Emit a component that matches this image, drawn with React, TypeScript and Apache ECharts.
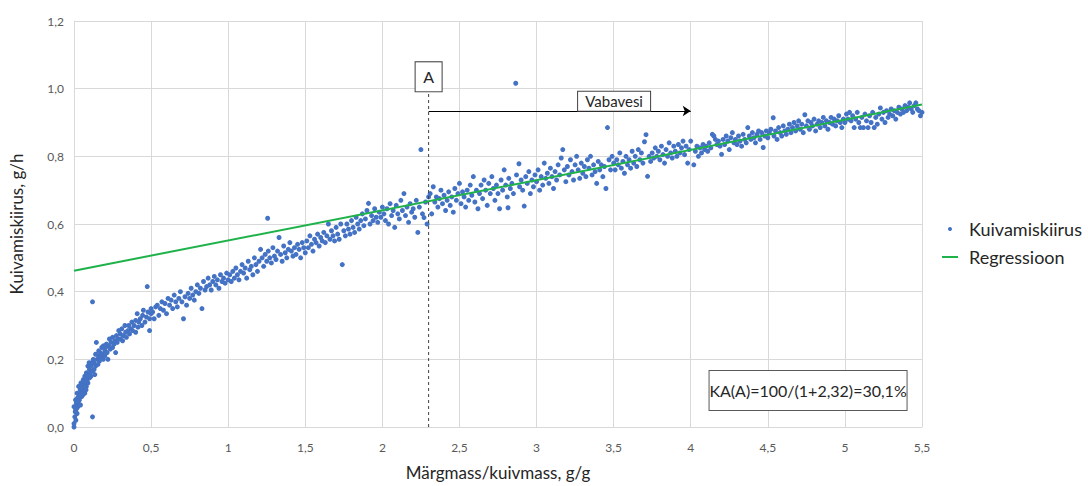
import React, { useEffect, useRef } from 'react';
import * as echarts from 'echarts';

// Measured drying rate points: [wet mass / dry mass (g/g), drying rate (g/h)]
const dryingPoints: [number, number][] = [
  [0,0.0],[0,0.01],[0.005,0.03],[0.01,0.05],[0.0,0.06],[0.01,0.08],[0.02,0.04],[0.015,0.07],[0.02,0.1],[0.025,0.06],
  [0.03,0.09],[0.03,0.12],[0.035,0.08],[0.04,0.11],[0.04,0.1],[0.045,0.13],[0.05,0.09],[0.05,0.12],[0.055,0.105],[0.06,0.14],
  [0.06,0.11],[0.065,0.125],[0.07,0.1],[0.07,0.15],[0.075,0.13],[0.08,0.12],[0.08,0.16],[0.085,0.14],[0.09,0.18],[0.09,0.13],
  [0.095,0.155],[0.1,0.17],[0.1,0.145],[0.012,0.02],[0.008,0.045],[0.018,0.055],[0.022,0.085],[0.028,0.075],[0.038,0.095],[0.042,0.065],
  [0.048,0.115],[0.058,0.095],[0.068,0.135],[0.078,0.11],[0.088,0.15],[0.098,0.19],[0.12,0.37],[0.12,0.03],
  [0.105,0.16],[0.11,0.18],[0.11,0.15],[0.115,0.19],[0.12,0.165],[0.125,0.2],[0.13,0.17],[0.13,0.19],[0.135,0.155],[0.14,0.215],
  [0.14,0.18],[0.145,0.25],[0.15,0.2],[0.155,0.185],[0.16,0.21],[0.16,0.225],[0.165,0.195],[0.17,0.22],[0.175,0.205],[0.18,0.235],
  [0.185,0.215],[0.19,0.2],[0.19,0.24],[0.2,0.225],[0.2,0.21],[0.205,0.235],[0.21,0.245],[0.215,0.22],[0.22,0.2],[0.225,0.24],
  [0.23,0.26],[0.235,0.23],[0.24,0.25],[0.25,0.235],[0.25,0.265],[0.26,0.245],[0.265,0.255],[0.27,0.22],[0.275,0.27],[0.28,0.25],
  [0.285,0.26],[0.29,0.285],[0.3,0.26],[0.3,0.275],[0.31,0.29],[0.315,0.255],[0.32,0.27],[0.33,0.3],[0.335,0.28],[0.34,0.265],
  [0.35,0.285],[0.355,0.3],[0.36,0.275],[0.37,0.29],[0.375,0.31],[0.38,0.285],[0.39,0.3],[0.4,0.28],[0.4,0.315],[0.41,0.335],
  [0.415,0.295],[0.42,0.31],[0.43,0.32],[0.44,0.3],[0.445,0.33],[0.45,0.345],[0.46,0.31],[0.47,0.325],[0.475,0.415],[0.48,0.34],
  [0.49,0.285],[0.49,0.32],[0.5,0.35],[0.5,0.335],
  [0.51,0.34],[0.52,0.32],[0.53,0.355],[0.54,0.36],[0.55,0.33],[0.56,0.35],[0.57,0.37],[0.58,0.345],[0.59,0.365],[0.6,0.335],
  [0.61,0.38],[0.62,0.36],[0.63,0.375],[0.64,0.35],[0.65,0.39],[0.66,0.37],[0.67,0.355],[0.68,0.38],[0.69,0.4],[0.7,0.37],
  [0.71,0.32],[0.72,0.385],[0.73,0.36],[0.74,0.395],[0.75,0.38],[0.76,0.41],[0.77,0.39],[0.78,0.375],[0.79,0.4],[0.8,0.42],
  [0.81,0.395],[0.82,0.41],[0.83,0.35],[0.84,0.43],[0.85,0.405],[0.86,0.415],[0.87,0.44],[0.88,0.42],[0.89,0.405],[0.9,0.43],
  [0.91,0.445],[0.92,0.42],[0.93,0.435],[0.94,0.41],[0.95,0.45],[0.96,0.43],[0.97,0.44],[0.98,0.425],[0.99,0.455],[1.0,0.435],
  [1.01,0.45],[1.02,0.43],[1.03,0.46],[1.04,0.44],[1.05,0.47],[1.06,0.45],[1.07,0.435],[1.08,0.46],[1.09,0.48],[1.1,0.455],
  [1.11,0.47],[1.12,0.44],[1.13,0.49],[1.14,0.465],[1.15,0.475],[1.16,0.45],[1.17,0.5],[1.18,0.48],[1.19,0.46],[1.2,0.49],
  [1.21,0.525],[1.22,0.5],[1.23,0.475],[1.24,0.51],[1.25,0.49],[1.256,0.617],[1.26,0.52],[1.27,0.5],[1.28,0.485],[1.29,0.53],
  [1.3,0.505],[1.31,0.495],[1.32,0.52],[1.33,0.56],[1.34,0.51],[1.35,0.49],[1.36,0.535],[1.37,0.515],[1.38,0.5],[1.39,0.525],
  [1.4,0.545],[1.41,0.52],[1.42,0.505],[1.43,0.53],[1.44,0.51],[1.45,0.54],[1.46,0.525],[1.47,0.5],[1.48,0.545],[1.49,0.53],[1.5,0.515],
  [1.51,0.55],[1.52,0.53],[1.53,0.565],[1.54,0.54],[1.55,0.52],[1.56,0.555],[1.57,0.545],[1.58,0.57],[1.59,0.535],[1.6,0.56],
  [1.61,0.55],[1.62,0.575],[1.63,0.545],[1.64,0.565],[1.65,0.6],[1.66,0.555],[1.67,0.58],[1.68,0.565],[1.69,0.55],[1.7,0.59],
  [1.71,0.57],[1.72,0.555],[1.73,0.6],[1.74,0.48],[1.75,0.58],[1.76,0.565],[1.77,0.6],[1.78,0.585],[1.79,0.57],[1.8,0.61],
  [1.81,0.59],[1.82,0.575],[1.83,0.62],[1.84,0.6],[1.85,0.585],[1.86,0.61],[1.87,0.63],[1.88,0.595],[1.89,0.615],[1.9,0.64],
  [1.91,0.661],[1.92,0.6],[1.93,0.625],[1.94,0.61],[1.95,0.645],[1.96,0.62],[1.97,0.605],[1.98,0.635],[1.99,0.62],[2.0,0.65],
  [2.01,0.63],[2.02,0.61],[2.03,0.645],[2.04,0.6],[2.05,0.66],[2.06,0.625],[2.07,0.64],[2.08,0.59],[2.09,0.655],[2.1,0.63],
  [2.11,0.615],[2.12,0.67],[2.13,0.64],[2.14,0.69],[2.15,0.625],[2.16,0.65],[2.17,0.605],[2.18,0.66],[2.19,0.635],[2.2,0.645],
  [2.21,0.62],[2.22,0.67],[2.23,0.575],[2.24,0.65],[2.25,0.82],[2.26,0.63],[2.27,0.619],[2.28,0.665],[2.29,0.6],[2.3,0.68],
  [2.31,0.69],[2.32,0.63],[2.33,0.71],[2.34,0.665],[2.35,0.68],[2.36,0.65],[2.37,0.675],[2.38,0.7],[2.39,0.66],[2.4,0.685],
  [2.41,0.64],[2.42,0.67],[2.43,0.695],[2.44,0.655],[2.45,0.68],[2.46,0.635],[2.47,0.705],[2.48,0.67],[2.49,0.69],[2.5,0.72],
  [2.51,0.66],[2.52,0.695],[2.53,0.68],[2.54,0.65],[2.55,0.7],[2.56,0.67],[2.57,0.715],[2.58,0.685],[2.59,0.74],[2.6,0.665],
  [2.61,0.7],[2.62,0.645],[2.63,0.69],[2.64,0.715],[2.65,0.675],[2.66,0.73],[2.67,0.7],[2.68,0.655],[2.69,0.72],[2.7,0.69],
  [2.71,0.74],[2.72,0.705],[2.73,0.67],[2.74,0.715],[2.75,0.69],[2.76,0.645],[2.77,0.73],[2.78,0.7],[2.79,0.76],[2.8,0.715],
  [2.81,0.68],[2.815,0.648],[2.82,0.735],[2.83,0.705],[2.84,0.72],[2.85,0.69],[2.865,1.016],[2.87,0.745],[2.886,0.778],[2.89,0.71],
  [2.9,0.73],[2.91,0.7],[2.92,0.653],[2.93,0.74],[2.94,0.72],[2.95,0.755],[2.96,0.69],[2.97,0.73],[2.98,0.71],[2.99,0.745],[3.0,0.725],
  [3.01,0.76],[3.02,0.7],[3.03,0.74],[3.04,0.715],[3.05,0.78],[3.06,0.735],[3.07,0.75],[3.08,0.72],[3.09,0.765],[3.1,0.74],
  [3.11,0.705],[3.12,0.755],[3.13,0.73],[3.14,0.775],[3.15,0.745],[3.16,0.795],[3.17,0.82],[3.18,0.76],[3.19,0.725],[3.2,0.77],
  [3.21,0.745],[3.22,0.79],[3.23,0.755],[3.24,0.73],[3.25,0.775],[3.26,0.8],[3.27,0.76],[3.28,0.735],[3.29,0.78],[3.3,0.75],
  [3.31,0.77],[3.32,0.74],[3.33,0.79],[3.34,0.765],[3.35,0.8],[3.36,0.745],[3.37,0.775],[3.38,0.755],[3.39,0.72],[3.4,0.785],
  [3.41,0.76],[3.42,0.775],[3.43,0.74],[3.44,0.77],[3.45,0.705],[3.46,0.885],[3.47,0.79],[3.48,0.76],[3.49,0.8],[3.5,0.78],
  [3.51,0.76],[3.52,0.79],[3.53,0.775],[3.54,0.81],[3.55,0.765],[3.56,0.785],[3.57,0.75],[3.58,0.8],[3.59,0.775],[3.6,0.79],
  [3.61,0.765],[3.62,0.815],[3.63,0.78],[3.64,0.8],[3.65,0.77],[3.66,0.82],[3.67,0.79],[3.68,0.81],[3.69,0.78],[3.7,0.843],
  [3.71,0.864],[3.72,0.741],[3.73,0.8],[3.74,0.785],[3.75,0.81],[3.76,0.795],[3.77,0.825],[3.78,0.8],[3.79,0.815],[3.8,0.79],
  [3.81,0.83],[3.82,0.805],[3.83,0.78],[3.84,0.82],[3.85,0.8],[3.86,0.84],[3.87,0.81],[3.88,0.795],[3.89,0.83],[3.9,0.815],
  [3.91,0.8],[3.92,0.835],[3.93,0.81],[3.94,0.825],[3.95,0.845],[3.96,0.805],[3.97,0.83],[3.98,0.78],[3.99,0.82],[4.0,0.845],
  [4.02,0.775],[4.03,0.815],[4.04,0.83],[4.05,0.8],[4.06,0.825],[4.07,0.81],[4.08,0.835],[4.09,0.82],[4.1,0.83],[4.11,0.815],
  [4.12,0.84],[4.13,0.825],[4.14,0.865],[4.15,0.86],[4.16,0.85],[4.17,0.835],[4.18,0.845],[4.19,0.83],[4.2,0.806],[4.21,0.85],
  [4.22,0.835],[4.23,0.86],[4.24,0.845],[4.25,0.82],[4.26,0.855],[4.27,0.87],[4.28,0.84],[4.29,0.85],[4.3,0.835],[4.31,0.86],
  [4.32,0.845],[4.33,0.83],[4.34,0.865],[4.35,0.85],[4.36,0.84],[4.37,0.885],[4.38,0.86],[4.39,0.85],[4.4,0.87],[4.41,0.855],
  [4.42,0.84],[4.43,0.865],[4.44,0.875],[4.45,0.85],[4.46,0.87],[4.47,0.826],[4.48,0.86],[4.49,0.875],[4.5,0.855],
  [4.51,0.87],[4.52,0.88],[4.535,0.914],[4.54,0.86],[4.55,0.875],[4.56,0.85],[4.57,0.885],[4.58,0.87],[4.59,0.86],[4.6,0.89],
  [4.61,0.875],[4.62,0.865],[4.63,0.88],[4.64,0.895],[4.65,0.87],[4.66,0.885],[4.67,0.9],[4.68,0.875],[4.69,0.89],[4.7,0.905],
  [4.71,0.88],[4.72,0.895],[4.73,0.87],[4.74,0.923],[4.75,0.89],[4.76,0.905],[4.77,0.88],[4.78,0.9],[4.79,0.89],[4.8,0.91],
  [4.81,0.875],[4.82,0.895],[4.83,0.905],[4.84,0.885],[4.85,0.9],[4.86,0.915],[4.87,0.89],[4.88,0.905],[4.89,0.88],[4.9,0.9],
  [4.91,0.915],[4.92,0.895],[4.93,0.91],[4.94,0.89],[4.95,0.905],[4.96,0.92],[4.97,0.9],[4.98,0.885],[4.99,0.91],[5.0,0.9],
  [5.01,0.925],[5.02,0.91],[5.03,0.93],[5.04,0.905],[5.05,0.92],[5.06,0.885],[5.07,0.91],[5.08,0.93],[5.09,0.9],[5.1,0.885],
  [5.11,0.915],[5.12,0.885],[5.13,0.925],[5.14,0.905],[5.15,0.885],[5.16,0.92],[5.17,0.9],[5.18,0.93],[5.19,0.885],[5.2,0.915],
  [5.21,0.895],[5.22,0.925],[5.23,0.943],[5.24,0.91],[5.25,0.93],[5.26,0.9],[5.27,0.935],[5.28,0.915],[5.29,0.925],[5.3,0.94],
  [5.31,0.92],[5.32,0.935],[5.33,0.91],[5.34,0.93],[5.35,0.945],[5.36,0.925],[5.37,0.94],[5.38,0.93],[5.39,0.95],[5.4,0.935],
  [5.41,0.945],[5.42,0.958],[5.43,0.94],[5.44,0.93],[5.45,0.95],[5.46,0.958],[5.47,0.94],[5.48,0.935],[5.49,0.92],[5.5,0.93]
];

// Linear regression line end points
const regressionLine: [number, number][] = [[0, 0.462], [5.5, 0.953]];

// Annotations
const pointA = 2.3;
const pointATop = 0.99;
const labelAY = 1.035;
const freeWaterArrowY = 0.934;
const freeWaterArrowEnd = 4.0;
const freeWaterLabel: [number, number] = [3.503, 0.963];
const kaLabel: [number, number] = [4.761, 0.108];
const kaText = 'KA(A)=100/(1+2,32)=30,1%';

const xRange = { min: 0, max: 5.5, interval: 0.5 };
const yRange = { min: 0, max: 1.2, interval: 0.2 };

const FONT = 'Lato, "Open Sans", sans-serif';

function boxLabel(text: string, w: number, h: number, size: number, border: string) {
  return {
    show: true,
    position: 'inside',
    formatter: text,
    color: '#262626',
    fontSize: size,
    fontFamily: FONT,
    backgroundColor: '#ffffff',
    borderColor: border,
    borderWidth: 1,
    width: w,
    height: h,
    lineHeight: h,
    align: 'center',
    verticalAlign: 'middle',
    padding: 0,
  };
}

export default function App() {
  const ref = useRef<HTMLDivElement>(null);

  useEffect(() => {
    if (!ref.current) return;
    document.body.style.margin = '0';
    document.body.style.overflow = 'hidden';
    const chart = echarts.init(ref.current, undefined, { renderer: 'svg' });
    const gridColor = '#d9d9d9';

    chart.setOption({
      animation: false,
      textStyle: { fontFamily: FONT },
      grid: { left: 67, right: 166, top: 21, bottom: 54, containLabel: false },
      legend: {
        orient: 'vertical',
        left: 937,
        top: 214,
        itemWidth: 16,
        itemHeight: 4,
        itemGap: 8,
        textStyle: { fontFamily: FONT, fontSize: 18, lineHeight: 20, color: '#262626', padding: [0, 0, 0, 6] },
        data: [
          { name: 'Kuivamiskiirus', icon: 'circle' },
          { name: 'Regressioon', icon: 'path://M0,0H16V2H0Z' },
        ],
        selectedMode: false,
      },
      xAxis: {
        type: 'value',
        min: xRange.min,
        max: xRange.max,
        interval: xRange.interval,
        name: 'Märgmass/kuivmass, g/g',
        nameLocation: 'middle',
        nameGap: 37,
        nameTextStyle: { fontFamily: FONT, fontSize: 17, color: '#262626' },
        axisLine: { show: true, lineStyle: { color: gridColor } },
        axisTick: { show: false },
        splitLine: { show: true, lineStyle: { color: gridColor } },
        axisLabel: {
          color: '#595959',
          fontSize: 12,
          margin: 14,
          formatter: (v: number) => String(v).replace('.', ','),
        },
      },
      yAxis: {
        type: 'value',
        min: yRange.min,
        max: yRange.max,
        interval: yRange.interval,
        name: 'Kuivamiskiirus, g/h',
        nameLocation: 'middle',
        nameGap: 49,
        nameTextStyle: { fontFamily: FONT, fontSize: 17, color: '#262626' },
        axisLine: { show: true, lineStyle: { color: gridColor } },
        axisTick: { show: false },
        splitLine: { show: true, lineStyle: { color: gridColor } },
        axisLabel: {
          color: '#595959',
          fontSize: 12,
          margin: 10,
          formatter: (v: number) => v.toFixed(1).replace('.', ','),
        },
      },
      series: [
        {
          name: 'Kuivamiskiirus',
          type: 'scatter',
          data: dryingPoints,
          symbol: 'circle',
          symbolSize: 5,
          itemStyle: { color: '#4472C4', opacity: 1 },
          silent: true,
          z: 2,
        },
        {
          name: 'Regressioon',
          type: 'line',
          data: regressionLine,
          symbol: 'none',
          showSymbol: false,
          lineStyle: { color: '#1FB24B', width: 2 },
          itemStyle: { color: '#1FB24B' },
          silent: true,
          z: 3,
        },
        {
          name: 'A-line',
          type: 'line',
          data: [[pointA, 0], [pointA, pointATop]],
          symbol: 'none',
          lineStyle: { color: '#404040', width: 1, type: [3, 3] },
          silent: true,
          z: 4,
          markPoint: {
            silent: true,
            symbol: 'circle',
            symbolSize: 0,
            itemStyle: { color: 'transparent' },
            data: [
              { name: 'A', coord: [pointA, labelAY], label: boxLabel('A', 26, 29, 16, '#404040') },
              { name: 'Vabavesi', coord: freeWaterLabel, label: boxLabel('Vabavesi', 72, 19, 15, '#404040') },
              { name: 'KA', coord: kaLabel, label: boxLabel(kaText, 197, 39, 16, '#595959') },
            ],
          },
          markLine: {
            silent: true,
            symbol: ['none', 'arrow'],
            symbolSize: 8,
            label: { show: false },
            lineStyle: { color: '#000000', width: 1, type: 'solid' },
            data: [[{ coord: [pointA, freeWaterArrowY] }, { coord: [freeWaterArrowEnd, freeWaterArrowY] }]],
          },
        },
      ],
    });

    return () => chart.dispose();
  }, []);

  return (
    <div
      ref={ref}
      style={{ position: 'fixed', left: 0, top: 0, width: 1088, height: 486, background: '#ffffff' }}
    />
  );
}
